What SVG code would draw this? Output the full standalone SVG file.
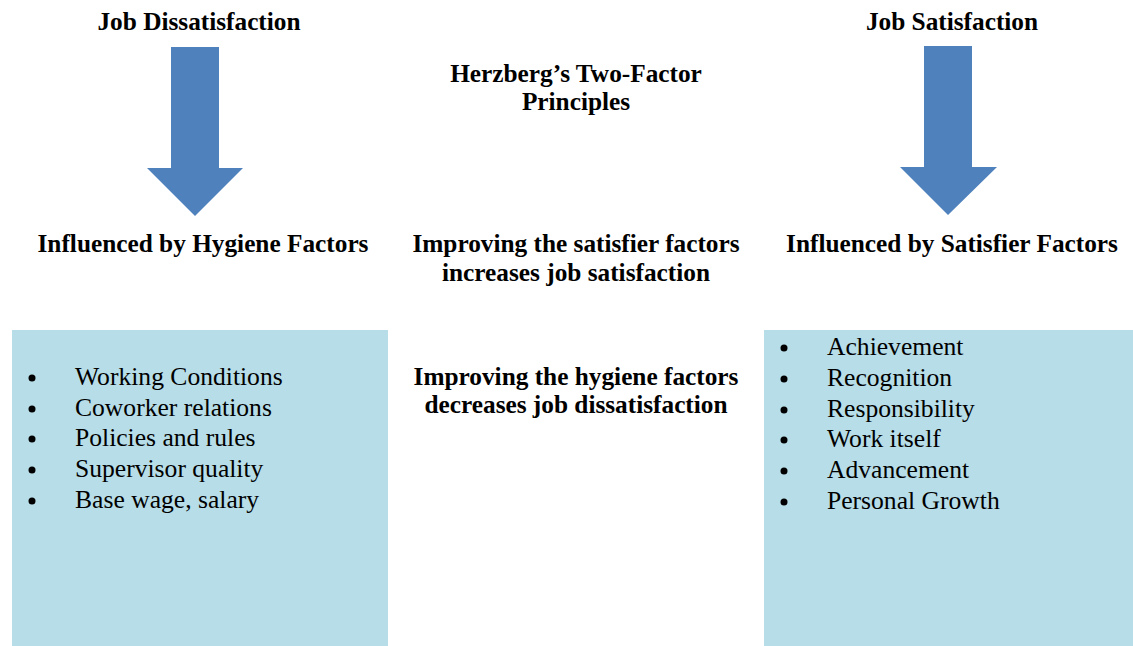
<svg xmlns="http://www.w3.org/2000/svg" width="1133" height="646" viewBox="0 0 1133 646">
<style>
.h{font-family:"Liberation Serif","Times New Roman",serif;font-weight:bold;font-size:25.3px;fill:#000;text-anchor:middle}
.t{font-family:"Liberation Serif","Times New Roman",serif;font-size:25.6px;fill:#000}
.box{fill:#b7dde8}
.arr{fill:#4f81bd}
</style>
<rect width="1133" height="646" fill="#fff"/>
<g id="title">
<text class="h" x="576" y="82">Herzberg’s Two-Factor</text>
<text class="h" x="576" y="110">Principles</text>
</g>
<g id="dissatisfaction">
<text class="h" x="199" y="30">Job Dissatisfaction</text>
</g>
<g id="satisfaction">
<text class="h" x="952" y="30">Job Satisfaction</text>
</g>
<g id="connectors">
<polygon class="arr" points="171,47 219,47 219,168 243,168 195,216 147,168 171,168"/>
<polygon class="arr" points="924,46 972,46 972,167 997,167 948,215 900,167 924,167"/>
</g>
<g id="hygiene-label">
<text class="h" x="203" y="252">Influenced by Hygiene Factors</text>
</g>
<g id="satisfier-label">
<text class="h" x="952" y="252">Influenced by Satisfier Factors</text>
</g>
<g id="center-note-1">
<text class="h" x="576" y="252">Improving the satisfier factors</text>
<text class="h" x="576" y="281">increases job satisfaction</text>
</g>
<g id="center-note-2">
<text class="h" x="576" y="385">Improving the hygiene factors</text>
<text class="h" x="576" y="413">decreases job dissatisfaction</text>
</g>
<g id="hygiene-box">
<rect class="box" x="12" y="330" width="376" height="316"/>
<g fill="#000">
<circle cx="32" cy="378" r="3.5"/>
<circle cx="32" cy="409" r="3.5"/>
<circle cx="32" cy="439" r="3.5"/>
<circle cx="32" cy="470" r="3.5"/>
<circle cx="32" cy="501" r="3.5"/>
</g>
<text class="t" x="75" y="385">Working Conditions</text>
<text class="t" x="75" y="416">Coworker relations</text>
<text class="t" x="75" y="446">Policies and rules</text>
<text class="t" x="75" y="477">Supervisor quality</text>
<text class="t" x="75" y="508">Base wage, salary</text>
</g>
<g id="satisfier-box">
<rect class="box" x="764" y="330" width="369" height="316"/>
<g fill="#000">
<circle cx="784" cy="348" r="3.5"/>
<circle cx="784" cy="379" r="3.5"/>
<circle cx="784" cy="410" r="3.5"/>
<circle cx="784" cy="440" r="3.5"/>
<circle cx="784" cy="471" r="3.5"/>
<circle cx="784" cy="502" r="3.5"/>
</g>
<text class="t" x="827" y="355">Achievement</text>
<text class="t" x="827" y="386">Recognition</text>
<text class="t" x="827" y="417">Responsibility</text>
<text class="t" x="827" y="447">Work itself</text>
<text class="t" x="827" y="478">Advancement</text>
<text class="t" x="827" y="509">Personal Growth</text>
</g>
</svg>
